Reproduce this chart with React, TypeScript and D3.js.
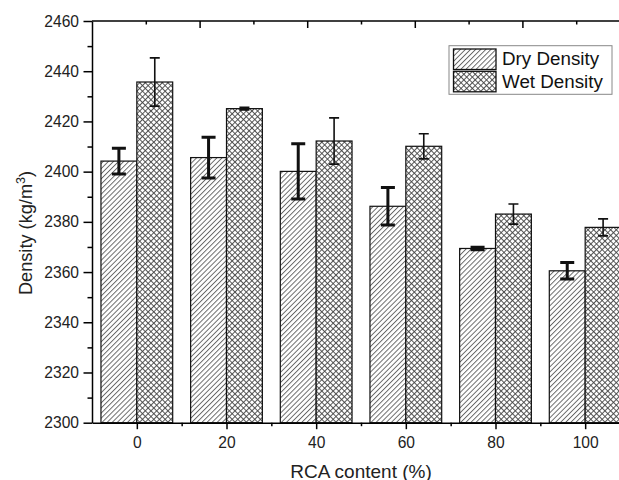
import { useRef, useEffect } from 'react';
import * as d3 from 'd3';

const categories = [0, 20, 40, 60, 80, 100];
const dryDensity = [2404.2, 2405.6, 2400.1, 2386.2, 2369.4, 2360.5];
const dryError = [5.1, 8.1, 11, 7.5, 0.5, 3.3];
const wetDensity = [2435.7, 2425.1, 2412.2, 2410.1, 2383.1, 2377.8];
const wetError = [9.6, 0.5, 9.2, 5, 4, 3.4];
const seriesNames = ['Dry Density', 'Wet Density'];
const yTicks = [2300, 2320, 2340, 2360, 2380, 2400, 2420, 2440, 2460];

export default function App() {
  const svgRef = useRef<SVGSVGElement>(null);
  const width = 619;
  const height = 480;

  useEffect(() => {
    const svg = d3.select(svgRef.current);
    svg.selectAll('*').remove();
    const margin = { top: 21, left: 92, right: 630, bottom: 422.7 };
    const font = "'Liberation Sans', Arial, sans-serif";

    const defs = svg.append('defs');
    const dry = defs
      .append('pattern')
      .attr('id', 'dryHatch')
      .attr('patternUnits', 'userSpaceOnUse')
      .attr('width', 3.6)
      .attr('height', 10)
      .attr('patternTransform', 'rotate(45)');
    dry.append('rect').attr('width', 3.6).attr('height', 10).attr('fill', '#fff');
    dry
      .append('line')
      .attr('x1', 0.5).attr('x2', 0.5).attr('y1', 0).attr('y2', 10)
      .attr('stroke', '#555').attr('stroke-width', 0.9);

    const wet = defs
      .append('pattern')
      .attr('id', 'wetHatch')
      .attr('patternUnits', 'userSpaceOnUse')
      .attr('width', 4)
      .attr('height', 4)
      .attr('patternTransform', 'rotate(45)');
    wet.append('rect').attr('width', 4).attr('height', 4).attr('fill', '#fff');
    wet
      .append('path')
      .attr('d', 'M0.5,0V4M0,0.5H4')
      .attr('stroke', '#444').attr('stroke-width', 0.9);

    const x = d3.scaleLinear().domain([-10, 110]).range([margin.left, margin.right]);
    const step = x(20) - x(0);
    const sub = d3.scaleBand().domain(seriesNames).range([-0.4 * step, 0.4 * step]);
    const y = d3.scaleLinear().domain([2300, 2460]).range([margin.bottom, margin.top]);

    const rows = categories.map((c, i) => ({
      c,
      vals: [
        { key: seriesNames[0], v: dryDensity[i], e: dryError[i] },
        { key: seriesNames[1], v: wetDensity[i], e: wetError[i] },
      ],
    }));

    const groups = svg
      .append('g')
      .selectAll('g')
      .data(rows)
      .join('g')
      .attr('transform', (d) => `translate(${x(d.c)},0)`);

    groups
      .selectAll('rect')
      .data((d) => d.vals)
      .join('rect')
      .attr('x', (d) => sub(d.key)!)
      .attr('width', sub.bandwidth())
      .attr('y', (d) => y(d.v))
      .attr('height', (d) => y(2300) - y(d.v))
      .attr('fill', (d, i) => (i === 0 ? 'url(#dryHatch)' : 'url(#wetHatch)'))
      .attr('stroke', '#111')
      .attr('stroke-width', 1.2);

    // error bars
    groups
      .selectAll('path.err')
      .data((d) => d.vals)
      .join('path')
      .attr('class', 'err')
      .attr('d', (d, i) => {
        const cx = sub(d.key)! + sub.bandwidth() / 2;
        const w = i === 0 ? 7 : 5;
        const t = y(d.v + d.e);
        const b = y(d.v - d.e);
        return `M${cx - w},${t}H${cx + w}M${cx},${t}V${b}M${cx - w},${b}H${cx + w}`;
      })
      .attr('fill', 'none')
      .attr('stroke', '#111')
      .attr('stroke-width', (d, i) => (i === 0 ? 3 : 1.6));

    // axes
    const bottomMajor = svg
      .append('g')
      .attr('transform', `translate(0,${margin.bottom})`)
      .call(d3.axisBottom(x).tickValues(categories).tickSize(6.5).tickPadding(8).tickSizeOuter(0));
    bottomMajor.select('.domain').attr('stroke-width', 1.5);
    bottomMajor.selectAll('.tick line').attr('stroke-width', 1.5);
    bottomMajor.selectAll('text').style('font', `15.6px ${font}`).attr('fill', '#222');
    svg
      .append('g')
      .attr('transform', `translate(0,${margin.bottom})`)
      .call(d3.axisBottom(x).tickValues([10, 30, 50, 70, 90]).tickSize(3.5).tickFormat(() => ''))
      .call((g) => g.select('.domain').remove())
      .selectAll('line')
      .attr('stroke-width', 1.5);

    const top = d3.scaleLinear().domain([0, 10]).range([margin.left, margin.right]);
    svg
      .append('g')
      .attr('transform', `translate(0,${margin.top})`)
      .call(d3.axisBottom(top).tickValues([2, 4, 6, 8]).tickSize(7).tickSizeOuter(0).tickFormat(() => ''))
      .call((g) => g.select('.domain').attr('d', `M${margin.left},0H${margin.right}`).attr('stroke-width', 1.5))
      .selectAll('line')
      .attr('stroke-width', 1.5);
    svg
      .append('g')
      .attr('transform', `translate(0,${margin.top})`)
      .call(d3.axisBottom(top).tickValues([1, 3, 5, 7, 9]).tickSize(3.5).tickFormat(() => ''))
      .call((g) => g.select('.domain').remove())
      .selectAll('line')
      .attr('stroke-width', 1.5);

    const left = svg
      .append('g')
      .attr('transform', `translate(${margin.left},0)`)
      .call(
        d3
          .axisLeft(y)
          .tickValues(yTicks)
          .tickFormat(d3.format('d'))
          .tickSize(8.5)
          .tickPadding(4.5)
          .tickSizeOuter(0)
      );
    left.select('.domain').attr('stroke-width', 1.5);
    left.selectAll('.tick line').attr('stroke-width', 1.5);
    left.selectAll('text').style('font', `15.6px ${font}`).attr('fill', '#222');
    svg
      .append('g')
      .attr('transform', `translate(${margin.left},0)`)
      .call(d3.axisLeft(y).tickValues(d3.range(2310, 2460, 20)).tickSize(4.5).tickFormat(() => ''))
      .call((g) => g.select('.domain').remove())
      .selectAll('line')
      .attr('stroke-width', 1.5);

    // axis titles
    svg
      .append('text')
      .attr('x', (margin.left + margin.right) / 2)
      .attr('y', 477.5)
      .attr('text-anchor', 'middle')
      .style('font', `19px ${font}`)
      .attr('fill', '#222')
      .text('RCA content (%)');

    const yl = svg
      .append('text')
      .attr('transform', 'translate(32,233) rotate(-90)')
      .attr('text-anchor', 'middle')
      .style('font', `18.2px ${font}`)
      .attr('fill', '#222');
    yl.append('tspan').text('Density (kg/m');
    yl.append('tspan').attr('dy', -7.5).style('font-size', '12.5px').text('3');
    yl.append('tspan').attr('dy', 7.5).text(')');

    // legend
    const lg = svg.append('g');
    lg.append('rect')
      .attr('x', 449).attr('y', 45.7).attr('width', 163).attr('height', 48.6)
      .attr('fill', '#fff').attr('stroke', '#888').attr('stroke-width', 1);
    seriesNames.forEach((name, i) => {
      lg.append('rect')
        .attr('x', 453.5).attr('y', 49 + i * 22.3).attr('width', 42.5).attr('height', 20.5)
        .attr('fill', i === 0 ? 'url(#dryHatch)' : 'url(#wetHatch)')
        .attr('stroke', '#111').attr('stroke-width', 1.3);
      lg.append('text')
        .attr('x', 502).attr('y', 65 + i * 23.3)
        .style('font', `18.8px ${font}`)
        .attr('fill', '#111')
        .text(name);
    });
  }, []);

  return (
    <svg
      ref={svgRef}
      width={width}
      height={height}
      style={{ position: 'absolute', left: 0, top: 0, background: '#fff' }}
    ></svg>
  );
}
